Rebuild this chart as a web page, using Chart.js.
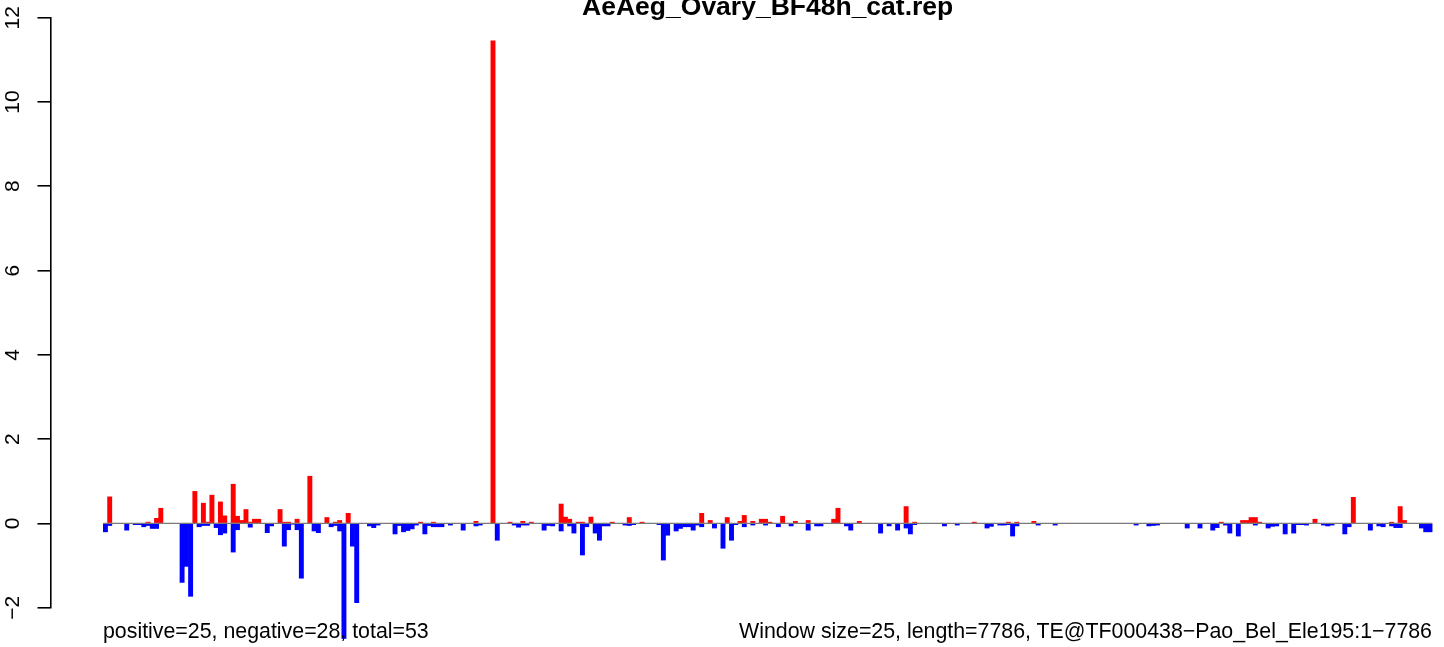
<!DOCTYPE html>
<html>
<head>
<meta charset="utf-8">
<script src="https://cdn.jsdelivr.net/npm/chart.js@4/dist/chart.umd.min.js"></script>
<style>
html,body{margin:0;padding:0;background:#fff;}
#wrap{position:relative;width:1444px;height:647px;overflow:hidden;background:#fff;}
#c{position:absolute;left:0;top:0;}
.t{position:absolute;font-family:"Liberation Sans",Arial,Helvetica,sans-serif;line-height:1;white-space:nowrap;color:#000;}
#title{top:-7.4px;left:767.7px;transform:translateX(-50%);font-size:26.5px;font-weight:bold;}
#footL{top:620.5px;left:103px;font-size:21.35px;}
#footR{top:620.5px;right:12px;font-size:21.35px;}
</style>
</head>
<body>
<div id="wrap">
<canvas id="c" width="1444" height="647"></canvas>
<div class="t" id="title"></div>
<div class="t" id="footL"></div>
<div class="t" id="footR"></div>
</div>
<script>
// ---- texts ----
const titleText = "AeAeg_Ovary_BF48h_cat.rep";
const footLeft = "positive=25, negative=28, total=53";
const footRight = "Window size=25, length=7786, TE@TF000438\u2212Pao_Bel_Ele195:1\u22127786";

// ---- y tick labels ----
const yTicks = [-2, 0, 2, 4, 6, 8, 10, 12];

// ---- bins (window index, 25 nt windows over 7786 nt) ----
const bins = Array.from({length: 312}, (_, i) => i);

// ---- sense (positive, red) values per window ----
const posVals = [
  0, 0.63, 0, 0, 0, 0, 0, 0, 0, 0,
  0.03, 0, 0.12, 0.36, 0, 0, 0, 0, 0, 0,
  0, 0.76, 0, 0.48, 0.03, 0.67, 0, 0.51, 0.18, 0,
  0.93, 0.17, 0.07, 0.33, 0.03, 0.1, 0.1, 0, 0, 0,
  0, 0.33, 0.03, 0.03, 0, 0.1, 0, 0, 1.12, 0,
  0, 0, 0.14, 0, 0.03, 0.07, 0, 0.24, 0, 0,
  0, 0, 0, 0, 0, 0, 0, 0, 0, 0,
  0, 0, 0, 0, 0.03, 0, 0, 0.03, 0, 0,
  0, 0, 0, 0, 0, 0, 0, 0.05, 0, 0,
  0, 11.45, 0, 0, 0, 0.03, 0, 0, 0.05, 0,
  0.03, 0, 0, 0, 0, 0, 0, 0.46, 0.15, 0.1,
  0, 0.03, 0.03, 0, 0.15, 0, 0, 0, 0, 0.03,
  0, 0, 0, 0.14, 0, 0, 0.03, 0, 0, 0,
  0, 0, 0, 0, 0, 0, 0, 0, 0, 0,
  0.24, 0, 0.07, 0, 0, 0, 0.14, 0, 0, 0.05,
  0.19, 0, 0.05, 0, 0.1, 0.1, 0.03, 0, 0, 0.17,
  0, 0, 0.05, 0, 0, 0.07, 0, 0, 0, 0,
  0, 0.1, 0.36, 0, 0, 0, 0, 0.05, 0, 0,
  0, 0, 0, 0, 0, 0, 0, 0, 0.4, 0,
  0.03, 0, 0, 0, 0, 0, 0, 0, 0, 0,
  0, 0, 0, 0, 0.03, 0, 0, 0, 0, 0,
  0, 0, 0.03, 0, 0.03, 0, 0, 0, 0.05, 0,
  0, 0, 0, 0, 0, 0, 0, 0, 0, 0,
  0, 0, 0, 0, 0, 0, 0, 0, 0, 0,
  0, 0, 0, 0, 0, 0, 0, 0, 0, 0,
  0, 0, 0, 0, 0, 0, 0, 0, 0, 0,
  0, 0, 0.03, 0, 0, 0, 0, 0.07, 0.07, 0.14,
  0.14, 0.03, 0, 0, 0, 0, 0, 0, 0, 0,
  0, 0, 0, 0, 0.1, 0, 0, 0, 0, 0,
  0, 0, 0, 0.62, 0, 0, 0, 0, 0, 0,
  0, 0, 0.03, 0, 0.4, 0.07, 0, 0, 0, 0,
  0, 0
];

// ---- antisense (negative, blue) values per window ----
const negVals = [
  -0.2, -0.05, 0, 0, 0, -0.16, 0, -0.03, -0.03, -0.08,
  -0.05, -0.12, -0.12, 0, 0, 0, 0, 0, -1.4, -1.02,
  -1.73, 0, -0.08, -0.05, -0.05, 0, -0.1, -0.27, -0.23, 0,
  -0.68, -0.15, 0, 0, -0.09, 0, 0, 0, -0.22, -0.06,
  0, 0, -0.54, -0.15, -0.02, -0.15, -1.3, 0, 0, -0.18,
  -0.22, 0, 0, -0.08, -0.05, -0.18, -2.73, 0, -0.54, -1.88,
  0, 0, -0.06, -0.1, -0.04, 0, 0, 0, -0.25, -0.05,
  -0.2, -0.17, -0.13, -0.04, 0, -0.25, -0.05, -0.08, -0.08, -0.08,
  0, -0.04, 0, 0, -0.16, 0, 0, -0.06, -0.04, 0,
  0, 0, -0.4, 0, 0, 0, -0.04, -0.09, -0.04, -0.04,
  0, 0, 0, -0.16, -0.05, -0.06, 0, -0.18, 0, -0.06,
  -0.23, 0, -0.75, -0.08, 0, -0.23, -0.4, -0.06, -0.06, 0,
  0, 0, -0.04, -0.05, -0.03, 0, 0, 0, 0, 0,
  -0.03, -0.87, -0.28, 0, -0.18, -0.12, -0.08, -0.08, -0.16, -0.04,
  -0.08, 0, 0, -0.11, 0, -0.59, 0, -0.4, -0.03, 0,
  -0.08, 0, -0.04, 0, 0, -0.04, 0, 0, -0.08, 0,
  0, -0.06, 0, 0, 0, -0.16, 0, -0.06, -0.06, 0,
  0, 0, 0, 0, -0.06, -0.16, 0, 0, 0, 0,
  0, 0, -0.23, 0, -0.06, 0, -0.16, 0, -0.11, -0.25,
  -0.03, 0, 0, 0, 0, 0, 0, -0.06, 0, 0,
  -0.04, 0, 0, 0, 0, 0, 0, -0.11, -0.07, 0,
  -0.04, -0.04, -0.03, -0.3, -0.06, 0, 0, 0, 0, -0.04,
  0, 0, 0, -0.04, 0, 0, 0, 0, 0, 0,
  0, 0, 0, 0, 0, 0, 0, 0, 0, 0,
  0, 0, -0.04, 0, 0, -0.06, -0.05, -0.04, 0, 0,
  0, 0, 0, 0, -0.11, 0, 0, -0.11, 0, 0,
  -0.16, -0.1, 0, -0.04, -0.23, 0, -0.3, 0, 0, 0,
  -0.04, 0, 0, -0.11, -0.07, -0.06, 0, -0.25, 0, -0.23,
  -0.03, -0.03, -0.04, 0, 0, 0, -0.04, -0.06, -0.04, 0,
  0, -0.25, -0.08, 0, 0, 0, 0, -0.16, 0, -0.06,
  -0.08, 0, -0.06, -0.1, -0.1, 0, 0, 0, 0, -0.11,
  -0.2, -0.2
];

document.getElementById('title').textContent = titleText;
document.getElementById('footL').textContent = footLeft;
document.getElementById('footR').textContent = footRight;

Chart.defaults.font.family = '"Liberation Sans", Arial, Helvetica, sans-serif';
Chart.defaults.color = '#000';

const zeroLine = {
  id: 'zeroLine',
  afterDatasetsDraw(chart) {
    const {ctx, scales: {x, y}} = chart;
    const py = y.getPixelForValue(0);
    const x0 = x.getPixelForValue(bins[0] - 0.5);
    const x1 = x.getPixelForValue(bins[bins.length - 1] + 0.5);
    ctx.save();
    ctx.strokeStyle = '#7a7a7a';
    ctx.lineWidth = 1.4;
    ctx.beginPath();
    ctx.moveTo(x0, py);
    ctx.lineTo(x1, py);
    ctx.stroke();
    ctx.restore();
  }
};

const toPts = (vals) => vals.map((v, i) => ({x: bins[i], y: v}));

new Chart(document.getElementById('c'), {
  type: 'bar',
  data: {
    datasets: [
      {data: toPts(posVals), backgroundColor: '#ff0000', borderWidth: 0, grouped: false, clip: false,
       barPercentage: 1, categoryPercentage: 1},
      {data: toPts(negVals), backgroundColor: '#0000ff', borderWidth: 0, grouped: false, clip: false,
       barPercentage: 1, categoryPercentage: 1}
    ]
  },
  options: {
    responsive: false,
    maintainAspectRatio: false,
    devicePixelRatio: 1,
    animation: false,
    events: [],
    layout: {padding: {top: 17.7, bottom: 39.3, left: 0, right: 0}},
    plugins: {legend: {display: false}, tooltip: {enabled: false}, title: {display: false}},
    scales: {
      x: {
        type: 'linear',
        display: false,
        offset: false,
        bounds: 'data',
        grid: {offset: false},
        min: -12.78,
        max: 314.29,
        ticks: {maxTicksLimit: 3}
      },
      y: {
        min: -2,
        max: 12,
        afterBuildTicks: (s) => { s.ticks = yTicks.map(v => ({value: v})); },
        afterFit: (s) => { s.width = 51; s.paddingTop = 0; s.paddingBottom = 0; },
        border: {display: true, color: '#000', width: 1.6},
        grid: {drawOnChartArea: false, drawTicks: true, tickLength: 13.5, color: '#000', lineWidth: 1.6},
        ticks: {
          minRotation: 90, maxRotation: 90, crossAlign: 'center', padding: 12.8,
          font: {size: 21}, color: '#000',
          callback: (v) => (v < 0 ? '\u2212' + Math.abs(v) : String(v))
        }
      }
    }
  },
  plugins: [zeroLine]
});
</script>
</body>
</html>
